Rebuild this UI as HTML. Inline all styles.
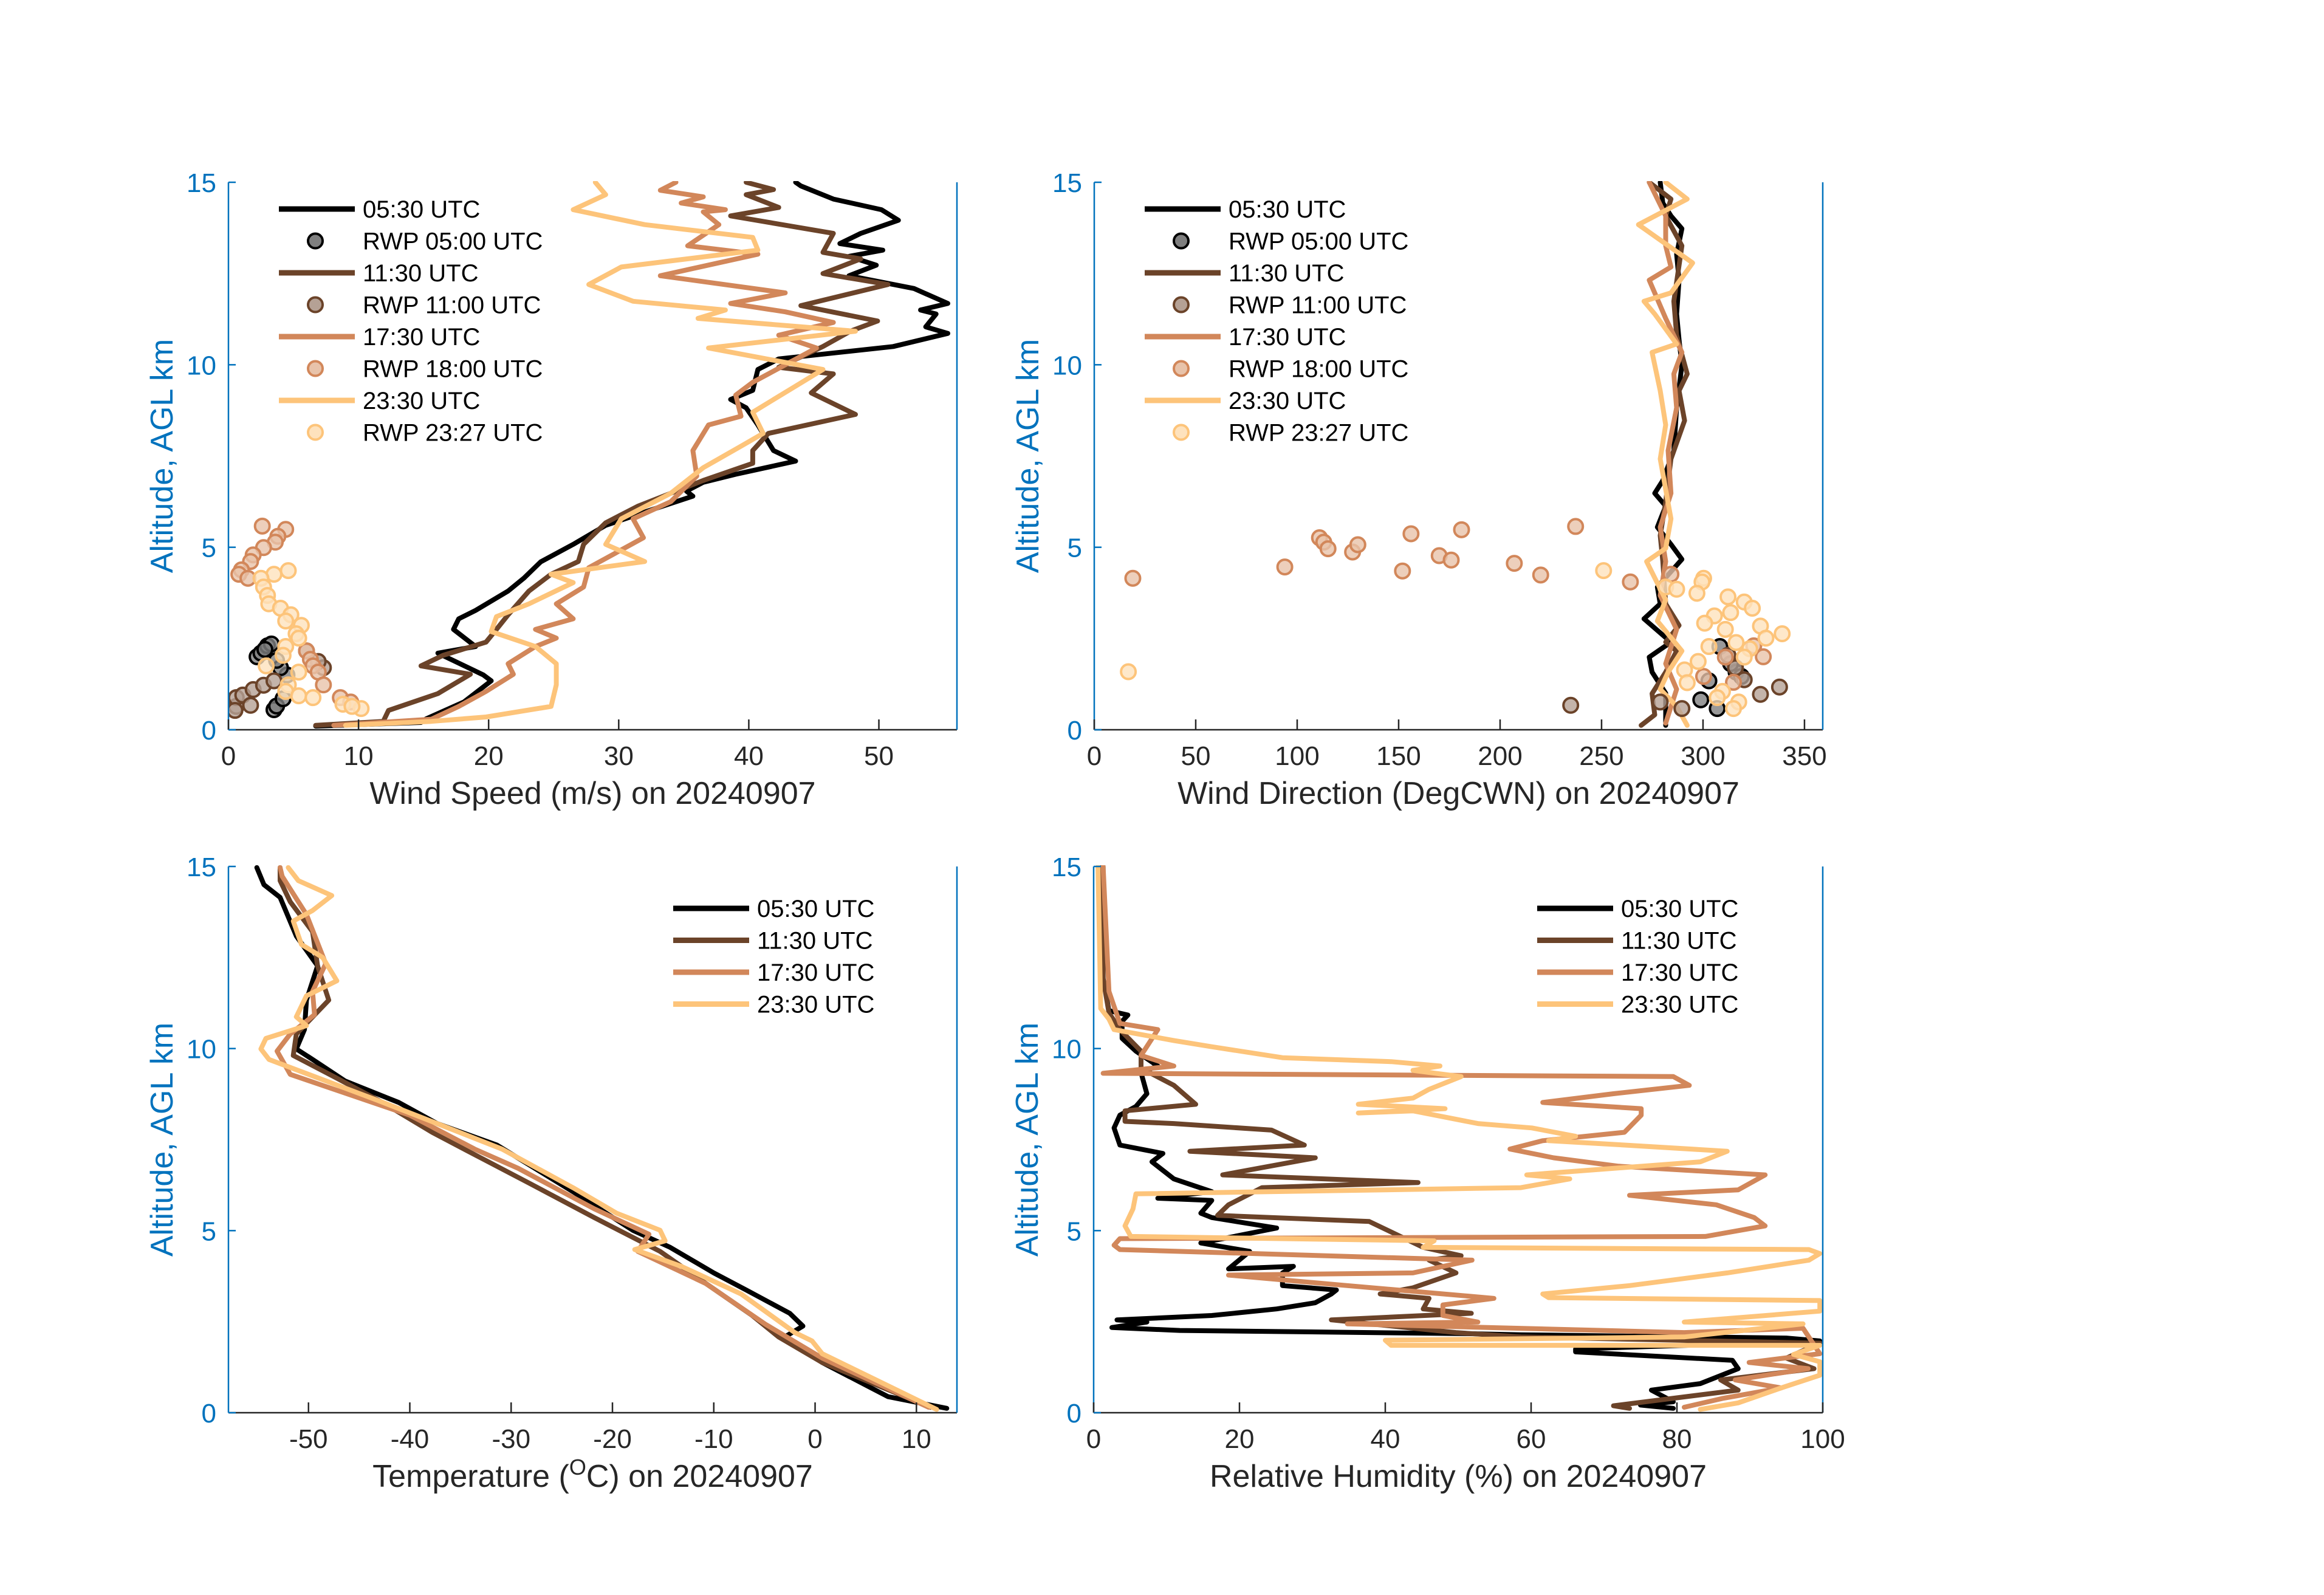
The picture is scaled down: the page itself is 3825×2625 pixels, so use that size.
<!DOCTYPE html>
<html><head><meta charset="utf-8">
<style>
html,body{margin:0;padding:0;background:#fff;}
svg{display:block;font-family:"Liberation Sans",sans-serif;}
</style></head>
<body>
<svg id="fig" width="3825" height="2625" viewBox="0 0 3825 2625" xmlns="http://www.w3.org/2000/svg"></svg>
<script>
// ---------- DATA ----------
const seriesNames = ["05:30 UTC","11:30 UTC","17:30 UTC","23:30 UTC"];
const rwpNames = ["RWP 05:00 UTC","RWP 11:00 UTC","RWP 18:00 UTC","RWP 23:27 UTC"];
const lineColors = ["#000000","#6b4329","#d2875a","#fdc47a"];
const markerFills = ["#7f7f7f","#b5a195","#e8c3aa","#fee2bd"];

// Wind speed (m/s) profiles: [value, altitude km]
const wsBlack = [[6.7,0.1],[14.8,0.2],[15.2,0.3],[18.1,0.76],[20.2,1.34],[19.6,1.5],[16.1,2.1],[19.0,2.28],[17.3,2.75],[17.7,3.04],[19.0,3.27],[21.5,3.8],[22.7,4.15],[24.0,4.6],[26.5,5.08],[29.0,5.6],[32.3,6.0],[34.0,6.2],[35.7,6.4],[35.2,6.54],[36.5,6.78],[39.0,7.0],[43.6,7.36],[41.9,7.65],[40.7,8.35],[39.8,8.82],[38.6,9.05],[40.3,9.3],[40.7,9.87],[42.3,10.16],[51.1,10.5],[55.3,10.86],[53.6,11.04],[54.4,11.39],[53.2,11.5],[55.3,11.68],[52.7,12.09],[47.7,12.44],[49.8,12.73],[47.7,12.97],[50.3,13.14],[47.0,13.32],[48.6,13.6],[51.5,13.96],[50.2,14.25],[46.5,14.54],[44.0,14.9],[43.6,15]];
const wsBrown = [[6.7,0.12],[11.9,0.23],[12.3,0.53],[16.1,0.99],[18.6,1.52],[14.8,1.75],[16.5,2.04],[19.8,2.4],[20.6,2.75],[21.5,3.15],[23.1,3.8],[24.8,4.26],[26.9,4.61],[27.3,5.08],[29.0,5.67],[31.5,6.13],[34.0,6.48],[36.5,6.83],[40.3,7.3],[40.3,7.65],[41.5,8.12],[48.2,8.64],[44.8,9.23],[46.5,9.75],[42.3,9.93],[45.7,10.5],[47.8,10.92],[49.9,11.2],[44.0,11.62],[50.7,12.2],[45.7,12.5],[48.6,12.9],[45.7,13.08],[46.5,13.6],[38.6,14.08],[42.3,14.31],[39.8,14.66],[41.9,14.8],[39.8,15]];
const wsOrange = [[8.1,0.12],[15.6,0.29],[17.7,0.64],[19.8,1.05],[21.9,1.52],[21.5,1.81],[23.6,2.28],[25.2,2.51],[23.6,2.75],[26.5,3.04],[25.2,3.45],[27.3,3.91],[27.7,4.44],[29.8,4.85],[31.9,5.26],[31.1,5.78],[34.0,6.25],[36.0,6.95],[35.7,7.65],[36.9,8.35],[39.4,8.59],[39.0,9.17],[40.3,9.52],[45.2,10.46],[42.3,10.81],[46.5,11.16],[42.8,11.45],[38.6,11.68],[42.8,11.97],[33.2,12.44],[40.7,13.03],[35.3,13.26],[37.7,13.84],[36.5,14.19],[38.2,14.25],[34.8,14.43],[36.5,14.6],[33.2,14.78],[34.4,15]];
const wsLight = [[9.0,0.12],[15.6,0.23],[19.8,0.35],[24.8,0.64],[25.2,1.23],[25.2,1.81],[23.6,2.28],[20.2,2.69],[20.6,3.1],[23.1,3.45],[26.5,4.03],[24.8,4.26],[32.0,4.61],[29.0,5.08],[30.2,5.78],[34.0,6.48],[36.5,7.18],[39.4,7.77],[41.1,8.12],[40.3,8.7],[45.7,9.87],[36.9,10.46],[48.2,10.92],[36.1,11.27],[38.2,11.5],[31.1,11.74],[27.7,12.2],[30.2,12.68],[40.7,13.14],[40.3,13.49],[32.0,13.84],[26.5,14.25],[29.0,14.66],[28.2,15]];
const wsRwp0 = [[2.2,2.0],[2.5,2.1],[3.0,2.3],[3.3,2.35],[2.8,2.2],[3.5,0.55],[3.7,0.65],[4.2,0.85],[4.5,1.5],[4.0,1.7],[3.7,1.9]];
const wsRwp1 = [[0.6,0.64],[0.6,0.88],[1.1,0.95],[1.9,1.1],[2.7,1.22],[3.5,1.34],[1.7,0.67],[0.5,0.53],[7.3,1.7],[6.9,1.87],[6.0,2.16]];
const wsRwp2 = [[2.6,5.58],[4.4,5.49],[3.8,5.3],[3.6,5.14],[2.7,4.99],[1.9,4.79],[1.7,4.61],[1.0,4.38],[0.8,4.26],[1.5,4.15],[6.0,2.16],[6.3,1.93],[6.5,1.75],[6.9,1.58],[7.3,1.23],[8.6,0.88],[9.4,0.76]];
const wsRwp3 = [[4.6,4.36],[3.5,4.26],[2.5,4.15],[2.7,3.91],[3.0,3.68],[3.1,3.45],[4.0,3.33],[4.8,3.15],[4.4,2.98],[5.6,2.86],[5.2,2.63],[5.4,2.51],[4.4,2.28],[4.2,2.04],[2.9,1.75],[5.4,1.58],[4.6,1.23],[4.4,1.05],[5.4,0.93],[6.5,0.88],[8.8,0.7],[10.2,0.58],[9.5,0.64]];

// Wind direction (deg)
const wdBlack = [[281.6,0.12],[281.6,1.0],[274.9,1.58],[273.5,1.99],[284.2,2.4],[270.9,3.04],[278.9,3.45],[277.5,3.91],[289.6,4.67],[284.2,5.08],[277.5,5.55],[281.6,6.13],[276.2,6.48],[280.2,6.83],[285.6,7.65],[287,8.82],[289.6,9.99],[288.2,10.69],[287,11.39],[288.2,12.32],[287,13.03],[289.6,13.73],[284.2,14.08],[280.2,14.43],[278.9,15]];
const wdBrown = [[269.5,0.12],[276.2,0.41],[274.9,0.99],[281.6,1.58],[287,2.16],[281.6,2.4],[288.2,2.86],[281.6,3.45],[280.2,4.61],[278.9,5.32],[281.6,6.25],[284.2,7.42],[290.9,8.47],[288.2,9.29],[292.2,9.75],[287,10.81],[285.6,11.74],[289.6,13.26],[281.6,14.08],[284.2,14.54],[273.5,15]];
const wdOrange = [[281.6,0.18],[287,1.11],[281.6,1.81],[287,2.75],[278.9,3.68],[281.6,4.61],[278.9,5.55],[284.2,6.48],[282.8,7.65],[287,8.82],[285.6,9.75],[289.6,10.34],[281.6,11.27],[273.5,12.32],[284.2,12.68],[281.6,13.26],[281.6,14.08],[273.5,15]];
const wdLight = [[292.2,0.12],[287,0.64],[278.9,1.11],[282.8,1.58],[289.6,2.16],[277.5,2.98],[281.6,3.56],[272.2,4.61],[281.6,4.97],[284.2,5.78],[278.9,7.42],[281.6,8.35],[278.9,9.29],[274.9,10.34],[287,10.57],[276.2,11.39],[270.9,11.74],[284.2,11.97],[294.9,12.79],[268.2,13.84],[292.2,14.54],[281.6,15]];
const wdRwp0 = [[308.3,2.28],[316.3,1.58],[298.9,0.82],[307,0.58],[302.9,1.34],[313.6,1.81],[318.9,1.46]];
const wdRwp1 = [[234.8,0.67],[337.7,1.17],[328.3,0.97],[320.3,1.37],[278.9,0.76],[289.6,0.58],[316,1.7],[312.3,2.04]];
const wdRwp2 = [[19,4.15],[93.9,4.46],[111,5.26],[113.1,5.14],[115.2,4.96],[127.3,4.87],[129.9,5.07],[151.9,4.35],[156.1,5.37],[170,4.77],[175.9,4.65],[181,5.48],[207,4.56],[220,4.24],[237.2,5.57],[264.2,4.05],[284.2,4.26],[329.7,2.0],[325,2.3],[311,1.99],[300.3,1.46],[315,1.3]];
const wdRwp3 = [[16.8,1.59],[251,4.36],[300.3,4.15],[299.5,4.05],[297,3.74],[312.3,3.64],[320.3,3.5],[324.3,3.33],[305.6,3.12],[313.6,3.21],[300.8,2.92],[328.3,2.84],[311,2.75],[339,2.63],[331,2.51],[316.3,2.39],[302.9,2.28],[323,2.22],[320.3,1.99],[297.6,1.87],[290.9,1.64],[292.2,1.29],[309.6,1.05],[307,0.88],[317.6,0.76],[315,0.58],[281.6,3.91],[287,3.85]];

// Temperature (deg C)
const tBlack = [[13.0,0.12],[7.2,0.44],[0.7,1.38],[-3.0,2.08],[-1.2,2.38],[-2.5,2.73],[-6.8,3.37],[-10.0,3.84],[-14.3,4.54],[-18.0,5.01],[-23.9,6.07],[-31.4,7.35],[-37.3,7.94],[-41.1,8.52],[-46.4,9.11],[-49.6,9.7],[-51.2,9.99],[-50.4,10.52],[-50.2,11.33],[-49.1,12.27],[-51.2,13.09],[-52.8,14.15],[-54.4,14.5],[-55.1,14.97]];
const tBrown = [[11.4,0.15],[0.7,1.38],[-3.6,2.08],[-6.2,2.67],[-11.1,3.61],[-15.3,4.43],[-21.8,5.36],[-28.2,6.3],[-33.0,7.0],[-37.8,7.7],[-42.7,8.52],[-47.5,9.23],[-51.5,9.81],[-51.2,10.4],[-48.0,11.33],[-49.1,12.27],[-49.6,13.21],[-51.8,14.03],[-52.8,14.61],[-52.8,14.97]];
const tOrange = [[11.2,0.15],[0.7,1.5],[-4.9,2.43],[-10.8,3.55],[-17.5,4.43],[-16.4,4.9],[-21.8,5.6],[-29.3,6.71],[-33.6,7.24],[-40.0,8.17],[-51.8,9.29],[-53.1,9.93],[-51.8,10.4],[-49.4,10.93],[-49.6,11.57],[-48.3,12.33],[-50.2,13.68],[-52.6,14.73],[-52.8,14.97]];
const tLight = [[12.0,0.09],[0.7,1.62],[-0.3,1.97],[-2.0,2.2],[-7.3,3.26],[-13.2,4.02],[-17.8,4.48],[-14.8,4.72],[-15.3,5.01],[-19.6,5.48],[-23.9,6.18],[-30.9,7.24],[-37.3,7.94],[-43.2,8.58],[-53.9,9.7],[-54.7,9.99],[-54.2,10.28],[-50.2,10.63],[-51.2,10.87],[-50.2,11.45],[-47.2,11.86],[-48.6,12.5],[-50.7,12.86],[-51.5,13.5],[-49.6,13.79],[-47.7,14.2],[-51.0,14.61],[-52.0,14.97]];

// Relative humidity (%)
const rhBlack = [[79.5,0.12],[75,0.21],[79.5,0.3],[76.5,0.62],[83.2,0.8],[88.4,1.21],[87.6,1.44],[66.1,1.67],[66.1,1.75],[99.6,1.97],[95,2.05],[58.6,2.14],[51.2,2.17],[11.8,2.26],[2.5,2.34],[7.3,2.49],[3.2,2.55],[16.2,2.67],[25.1,2.85],[30.4,3.02],[32.6,3.26],[33.3,3.37],[25.9,3.49],[25.9,3.84],[27.4,4.02],[18.5,3.95],[21.4,4.43],[14.7,4.66],[25.1,5.07],[16.2,5.36],[14.7,5.48],[16.2,5.83],[8.8,5.89],[16.2,6.07],[11,6.42],[8.0,6.89],[9.5,7.12],[3.6,7.35],[2.8,7.82],[3.6,8.17],[5.8,8.41],[7.3,8.76],[6.5,9.34],[8.8,9.52],[5.8,9.93],[3.9,10.28],[3.9,10.75],[4.7,10.92],[2.1,11.04],[1.3,11.92],[1.3,15]];
const rhBrown = [[73.5,0.12],[71.3,0.19],[88.4,0.62],[86,0.9],[98.8,1.21],[95,1.5],[99.6,1.91],[58.6,2.08],[49.7,2.2],[32.6,2.55],[51.8,2.73],[45.2,2.85],[46,3.14],[39.3,3.26],[43.8,3.43],[49.7,3.84],[46,4.19],[50.4,4.31],[45.2,4.54],[37.8,5.25],[17,5.42],[18.5,5.71],[23.1,6.18],[44.5,6.32],[17.7,6.53],[30.4,7.0],[13.2,7.18],[28.9,7.35],[24.4,7.76],[11,7.94],[4.3,8.0],[4.3,8.29],[14,8.47],[11,8.99],[6.5,9.46],[6.5,9.93],[3.6,10.52],[2.1,10.98],[1.3,11.92],[1.0,15]];
const rhOrange = [[81,0.15],[86.2,0.39],[94.3,0.68],[88,0.9],[98,1.21],[89.9,1.38],[99.6,1.62],[97.3,2.32],[81,2.2],[34.8,2.44],[52.7,2.49],[47.9,2.67],[47.9,2.96],[54.9,3.14],[34.8,3.49],[18.5,3.78],[43.8,3.84],[51.9,4.19],[3.6,4.48],[2.8,4.6],[3.6,4.78],[83.9,4.84],[92.1,5.13],[90.6,5.36],[85.4,5.71],[73.5,5.97],[88.4,6.12],[92.1,6.53],[72,6.77],[63.1,7.0],[57.1,7.24],[61.6,7.47],[72.8,7.7],[75.1,8.17],[75.1,8.35],[61.6,8.52],[71.3,8.76],[81.7,8.99],[79.5,9.23],[1.3,9.32],[11,9.52],[6.5,9.81],[8.8,10.52],[3.6,10.69],[2.1,11.57],[1.3,15]];
const rhLight = [[83.2,0.09],[88.4,0.27],[94.3,0.68],[99.6,1.03],[99.6,1.4],[96,1.6],[99.6,1.85],[40.8,1.85],[40,1.99],[81,2.08],[97.3,2.44],[81,2.49],[99.6,2.79],[99.6,3.08],[62.4,3.16],[61.6,3.26],[73.5,3.49],[86.9,3.84],[98.1,4.19],[99.6,4.37],[98.1,4.48],[45.2,4.54],[46.7,4.72],[5.1,4.84],[4.3,5.13],[5.4,5.6],[5.8,6.01],[58.6,6.18],[65.3,6.42],[59.4,6.53],[83.2,6.89],[86.9,7.18],[72.8,7.35],[62.4,7.47],[66.1,7.59],[60.1,7.82],[52.7,7.94],[43.8,8.29],[36.3,8.23],[48.2,8.35],[36.3,8.47],[43.8,8.64],[46,8.88],[50.4,9.23],[43.8,9.4],[47.5,9.52],[40.8,9.64],[25.9,9.75],[16.2,10.05],[11,10.22],[2.8,10.52],[2.1,10.81],[0.97,11.1],[0.6,15]];

const wsTicks = [0,10,20,30,40,50];
const wdTicks = [0,50,100,150,200,250,300,350];
const tTicks = [-50,-40,-30,-20,-10,0,10];
const rhTicks = [0,20,40,60,80,100];
const altTicks = [0,5,10,15];

// ---------- DRAWING ----------
const NS = "http://www.w3.org/2000/svg";
const svg = document.getElementById("fig");
function mk(tag, attrs, parent){
  const e = document.createElementNS(NS, tag);
  for (const k in attrs) e.setAttribute(k, attrs[k]);
  (parent||svg).appendChild(e);
  return e;
}

function panel(cfg){
  const g = mk("g", {});
  
  
  const L = cfg.x0, R = cfg.x1, T = cfg.y0, B = cfg.y1;
  const sx = v => L + (v - cfg.xmin) / (cfg.xmax - cfg.xmin) * (R - L);
  const sy = a => B - a / 15 * (B - T);
  const cid = "clip-" + cfg.name;
  const cp = mk("clipPath", {id: cid}, g);
  mk("rect", {x: L, y: T - 2, width: R - L, height: B - T + 4}, cp);
  const plot = mk("g", {"clip-path": "url(#" + cid + ")"}, g);
  cfg.lines.forEach((arr, i) => {
    const d = arr.map((p, j) => (j ? "L" : "M") + sx(p[0]).toFixed(1) + " " + sy(p[1]).toFixed(1)).join(" ");
    const pth = mk("path", {d: d, fill: "none", stroke: lineColors[i], "stroke-width": 8, "stroke-linejoin": "round", "stroke-linecap": "round"}, plot);
    
    
  });
  (cfg.points || []).forEach((arr, i) => {
    arr.forEach(p => {
      const c = mk("circle", {cx: sx(p[0]), cy: sy(p[1]), r: 12, fill: markerFills[i], "fill-opacity": 0.8, stroke: lineColors[i], "stroke-width": 4}, plot);
      
      
    });
  });
  const bx = mk("line", {x1: L, y1: B, x2: R, y2: B, stroke: "#262626", "stroke-width": 2.5}, g);
  
  
  const ly = mk("line", {x1: L, y1: T, x2: L, y2: B, stroke: "#0072BD", "stroke-width": 2.5}, g);
  
  
  const ry = mk("line", {x1: R, y1: T, x2: R, y2: B, stroke: "#0072BD", "stroke-width": 2.5}, g);
  
  
  cfg.xticks.forEach(t => {
    const x = sx(t);
    mk("line", {x1: x, y1: B, x2: x, y2: B - 17, stroke: "#262626", "stroke-width": 2.5}, g);
    const tx = mk("text", {x: x, y: B + 58, "text-anchor": "middle", "font-size": 44, fill: "#262626"}, g);
    tx.textContent = t;
    
    
  });
  altTicks.forEach(t => {
    const y = sy(t);
    mk("line", {x1: L, y1: y, x2: L + 12, y2: y, stroke: "#0072BD", "stroke-width": 2.5}, g);
    const ty = mk("text", {x: L - 20, y: y + 16, "text-anchor": "end", "font-size": 44, fill: "#0072BD"}, g);
    ty.textContent = t;
    
    
  });
  const xl = mk("text", {x: (L + R) / 2, y: B + 122, "text-anchor": "middle", "font-size": 52, fill: "#262626"}, g);
  xl.innerHTML = cfg.xlabel;
  
  
  const yl = mk("text", {x: 0, y: 0, "text-anchor": "middle", "font-size": 52, fill: "#0072BD", transform: "translate(" + (L - 92) + "," + ((T + B) / 2) + ") rotate(-90)"}, g);
  yl.textContent = "Altitude, AGL km";
  
  
  const lg = mk("g", {}, g);
  
  
  let row = 0;
  const lx = L + cfg.legX, ly0 = T + cfg.legY, rowH = 52.5;
  seriesNames.forEach((nm, i) => {
    let y = ly0 + row * rowH;
    const e1 = mk("g", {}, lg);
    
    
    mk("line", {x1: lx, y1: y, x2: lx + 125, y2: y, stroke: lineColors[i], "stroke-width": 9}, e1);
    const t1 = mk("text", {x: lx + 138, y: y + 14, "font-size": 40, fill: "#000"}, e1);
    t1.textContent = nm;
    row++;
    if (cfg.points) {
      y = ly0 + row * rowH;
      const e2 = mk("g", {}, lg);
      
      
      mk("circle", {cx: lx + 60, cy: y, r: 12, fill: markerFills[i], stroke: lineColors[i], "stroke-width": 4}, e2);
      const t2 = mk("text", {x: lx + 138, y: y + 14, "font-size": 40, fill: "#000"}, e2);
      t2.textContent = rwpNames[i];
      row++;
    }
  });
}

panel({name: "wind-speed-panel", x0: 376, x1: 1575, y0: 300, y1: 1201, xmin: 0, xmax: 56, xticks: wsTicks,
  xlabel: "Wind Speed (m/s) on 20240907", lines: [wsBlack, wsBrown, wsOrange, wsLight],
  points: [wsRwp0, wsRwp1, wsRwp2, wsRwp3], legX: 83, legY: 44});
panel({name: "wind-direction-panel", x0: 1801, x1: 3000, y0: 300, y1: 1201, xmin: 0, xmax: 359, xticks: wdTicks,
  xlabel: "Wind Direction (DegCWN) on 20240907", lines: [wdBlack, wdBrown, wdOrange, wdLight],
  points: [wdRwp0, wdRwp1, wdRwp2, wdRwp3], legX: 83, legY: 44});
panel({name: "temperature-panel", x0: 376, x1: 1575, y0: 1426, y1: 2325, xmin: -57.9, xmax: 14, xticks: tTicks,
  xlabel: "Temperature (<tspan font-size='36' dy='-20'>O</tspan><tspan dy='20'>C) on 20240907</tspan>",
  lines: [tBlack, tBrown, tOrange, tLight], legX: 732, legY: 69});
panel({name: "humidity-panel", x0: 1800, x1: 3000, y0: 1426, y1: 2325, xmin: 0, xmax: 100, xticks: rhTicks,
  xlabel: "Relative Humidity (%) on 20240907", lines: [rhBlack, rhBrown, rhOrange, rhLight], legX: 730, legY: 69});
</script>
</body></html>
